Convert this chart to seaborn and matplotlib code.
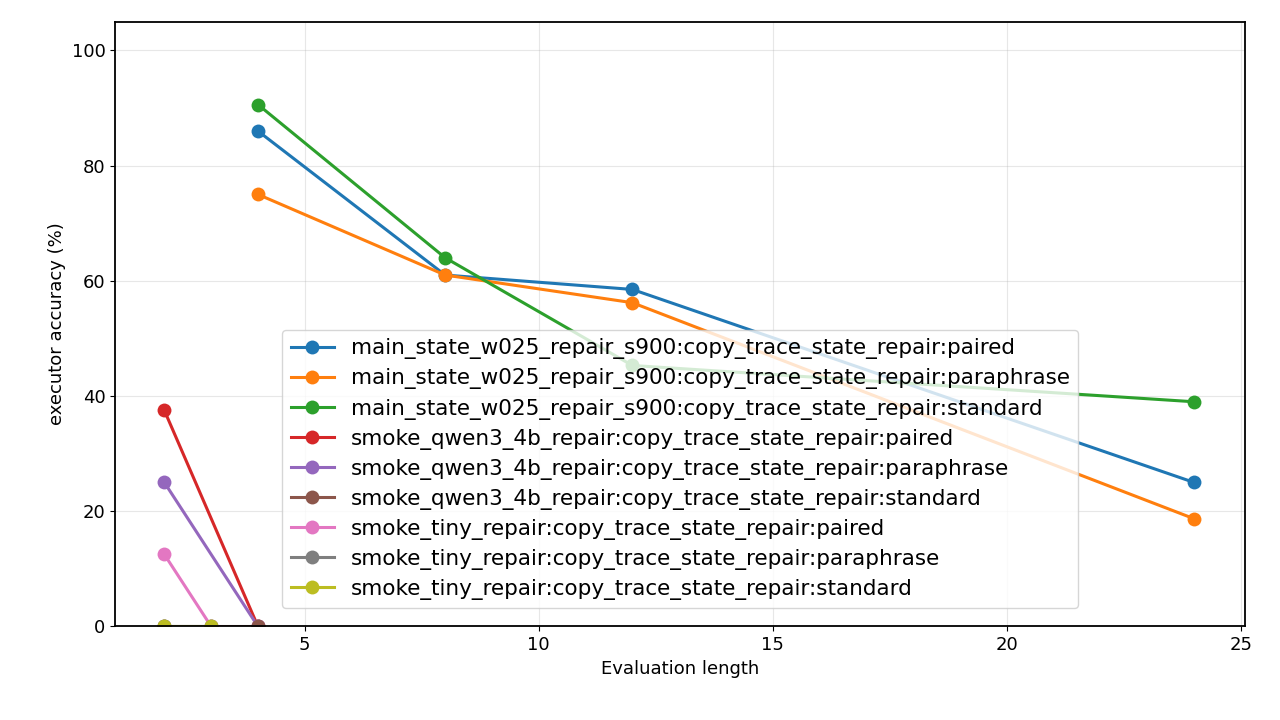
import matplotlib
matplotlib.use("Agg")
import matplotlib.pyplot as plt
import seaborn as sns
import pandas as pd

labels = [
 "main_state_w025_repair_s900:copy_trace_state_repair:paired",
 "main_state_w025_repair_s900:copy_trace_state_repair:paraphrase",
 "main_state_w025_repair_s900:copy_trace_state_repair:standard",
 "smoke_qwen3_4b_repair:copy_trace_state_repair:paired",
 "smoke_qwen3_4b_repair:copy_trace_state_repair:paraphrase",
 "smoke_qwen3_4b_repair:copy_trace_state_repair:standard",
 "smoke_tiny_repair:copy_trace_state_repair:paired",
 "smoke_tiny_repair:copy_trace_state_repair:paraphrase",
 "smoke_tiny_repair:copy_trace_state_repair:standard",
]
xs = [[4,8,12,24],[4,8,12,24],[4,8,12,24],[2,4],[2,4],[2,4],[2,3],[2,3],[2,3]]
ys = [[86,61,58.5,25],[75,61,56.2,18.7],[90.6,64,45.3,39],[37.5,0],[25,0],[0,0],[12.5,0],[0,0],[0,0]]

rows = []
for l, x, y in zip(labels, xs, ys):
    for a, b in zip(x, y):
        rows.append({"series": l, "x": a, "y": b})
df = pd.DataFrame(rows)

plt.rcParams['font.size'] = 13
fig, ax = plt.subplots(figsize=(12.8, 7.2), dpi=100)
pal = sns.color_palette("tab10", 9)
for i, l in enumerate(labels):
    d = df[df.series == l]
    sns.lineplot(data=d, x="x", y="y", ax=ax, color=pal[i], marker="o",
                 markersize=10, linewidth=2.2, markeredgewidth=0, label=l)
ax.set_ylim(0, 105)
ax.set_xlim(0.95, 25.1)
ax.set_xticks([5, 10, 15, 20, 25])
ax.grid(True, alpha=0.3)
for s in ax.spines.values():
    s.set_linewidth(1.3)
ax.set_xlabel("Evaluation length")
ax.set_ylabel("executor accuracy (%)")
ax.legend(loc="lower left", bbox_to_anchor=(0.138, 0.012), fontsize=15.5,
          labelspacing=0.42, framealpha=0.8)
fig.subplots_adjust(left=0.09, right=0.973, top=0.97, bottom=0.13)
fig.savefig("out.png")
